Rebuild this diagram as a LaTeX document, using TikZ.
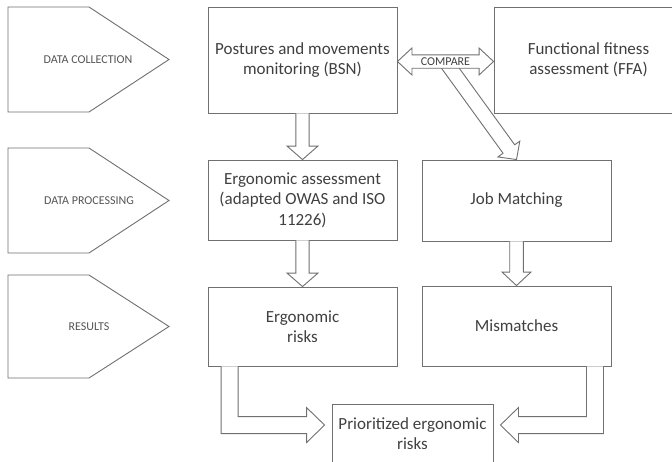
\documentclass[tikz,border=0pt]{standalone}
\usepackage{fontspec}
\setmainfont{Carlito}
\usetikzlibrary{calc}

\definecolor{linegray}{HTML}{707070}
\definecolor{textgray}{HTML}{404040}
\definecolor{labelgray}{HTML}{555555}

% straight block arrow: source, target, shaft half-width, head half-width, head length
\newcommand{\blockarr}[5]{%
  \coordinate (ba-s) at (#1);
  \coordinate (ba-t) at (#2);
  \coordinate (ba-h) at ($(ba-t)!#5!(ba-s)$);
  \filldraw[arrowline]
    ($(ba-s)!#3!90:(ba-t)$) -- ($(ba-h)!#3!90:(ba-t)$) -- ($(ba-h)!#4!90:(ba-t)$)
    -- (ba-t)
    -- ($(ba-h)!#4!-90:(ba-t)$) -- ($(ba-h)!#3!-90:(ba-t)$) -- ($(ba-s)!#3!-90:(ba-t)$);
}
% double-headed block arrow
\newcommand{\dblockarr}[5]{%
  \coordinate (da-a) at (#1);
  \coordinate (da-b) at (#2);
  \coordinate (da-ha) at ($(da-a)!#5!(da-b)$);
  \coordinate (da-hb) at ($(da-b)!#5!(da-a)$);
  \filldraw[arrowline]
    (da-a) -- ($(da-ha)!#4!90:(da-b)$) -- ($(da-ha)!#3!90:(da-b)$)
    -- ($(da-hb)!#3!90:(da-b)$) -- ($(da-hb)!#4!90:(da-b)$) -- (da-b)
    -- ($(da-hb)!#4!-90:(da-b)$) -- ($(da-hb)!#3!-90:(da-b)$)
    -- ($(da-ha)!#3!-90:(da-b)$) -- ($(da-ha)!#4!-90:(da-b)$) -- cycle;
}

\tikzset{
  arrowline/.style={draw=linegray, line width=0.9pt, fill=white, line join=miter},
  box/.style={draw=linegray, line width=0.9pt, fill=white, align=center,
    text=textgray, font=\fontsize{17}{20.5}\selectfont, inner sep=2pt},
  phase/.style={draw=linegray, line width=0.9pt},
  phaselabel/.style={text=labelgray, font=\fontsize{12}{14}\selectfont, inner sep=0pt},
  cmplabel/.style={text=textgray, font=\fontsize{12}{14}\selectfont, inner sep=0pt}
}

\begin{document}
\begin{tikzpicture}[x=1pt, y=-1pt]
\clip (0,0) rectangle (672,461);
\fill[white] (0,0) rectangle (672,461);

% phase markers
\draw[phase] (8,7) -- (89,7) -- (169,59.5) -- (89,112) -- (8,112) -- cycle;
\draw[phase] (8,148) -- (89,148) -- (169,200.5) -- (89,253) -- (8,253) -- cycle;
\draw[phase] (8,275) -- (89,275) -- (169,326.5) -- (89,378) -- (8,378) -- cycle;
\node[phaselabel] (lcol)  at (88,60)  {DATA COLLECTION};
\node[phaselabel] (lproc) at (89,201) {DATA PROCESSING};
\node[phaselabel] (lres)  at (89,327) {RESULTS};

% boxes
\node[box, minimum width=189pt, minimum height=106pt] (bsn) at (302.5,60)
  {Postures and movements\\monitoring (BSN)};
\node[box, minimum width=189pt, minimum height=106pt] (ffa) at (588.5,60)
  {Functional fitness\\assessment (FFA)};
\node[box, minimum width=189pt, minimum height=80pt] (erg) at (302.5,200)
  {Ergonomic assessment\\(adapted OWAS and ISO\\11226)};
\node[box, minimum width=189pt, minimum height=81pt] (jm) at (516.5,200.5)
  {Job Matching};
\node[box, minimum width=189pt, minimum height=79pt] (risk) at (302.5,326.5)
  {Ergonomic\\risks};
\node[box, minimum width=189pt, minimum height=80pt] (mis) at (516.5,326)
  {Mismatches};
\node[box, minimum width=161pt, minimum height=59pt] (prio) at (412.5,433.5)
  {Prioritized ergonomic\\risks};

% comparison arrow with its branch down to job matching
\coordinate (cmp) at ($(bsn.east)!0.5!(ffa.west)+(0,1.5)$);
\blockarr{cmp}{jm.north}{7.2pt}{13.5pt}{13pt}
\dblockarr{$(bsn.east)+(0,1.5)$}{$(ffa.west)+(0,1.5)$}{6.7pt}{13.5pt}{14.5pt}
\node[cmplabel] (compare) at (cmp) {COMPARE};

% vertical flow arrows
\blockarr{bsn.south}{erg.north}{6.6pt}{15.5pt}{13.5pt}
\blockarr{erg.south}{risk.north}{6.6pt}{15.5pt}{13.5pt}
\blockarr{jm.south}{mis.north}{6.8pt}{14.5pt}{13.5pt}

% elbow arrows into the prioritized risks box
\coordinate (el-s) at ($(risk.south west)+(22,0)$);
\coordinate (el-t) at ($(prio.north west)+(-7,21.5)$);
\filldraw[arrowline] let \p1=(el-s), \p2=(el-t) in
  (\x1-8.5pt,\y1) -- (\x1-8.5pt,\y2-8.5pt) -- (\x2-18pt,\y2-8.5pt)
  -- (\x2-18pt,\y2-17.5pt) -- (\x2,\y2) -- (\x2-18pt,\y2+17.5pt)
  -- (\x2-18pt,\y2+8.5pt) -- (\x1+8.5pt,\y2+8.5pt) -- (\x1+8.5pt,\y1);
\coordinate (er-s) at ($(mis.south east)+(-16.5,0)$);
\coordinate (er-t) at ($(prio.north east)+(7,21.5)$);
\filldraw[arrowline] let \p1=(er-s), \p2=(er-t) in
  (\x1+8.5pt,\y1) -- (\x1+8.5pt,\y2-8.5pt) -- (\x2+18pt,\y2-8.5pt)
  -- (\x2+18pt,\y2-17.5pt) -- (\x2,\y2) -- (\x2+18pt,\y2+17.5pt)
  -- (\x2+18pt,\y2+8.5pt) -- (\x1-8.5pt,\y2+8.5pt) -- (\x1-8.5pt,\y1);
\end{tikzpicture}
\end{document}
